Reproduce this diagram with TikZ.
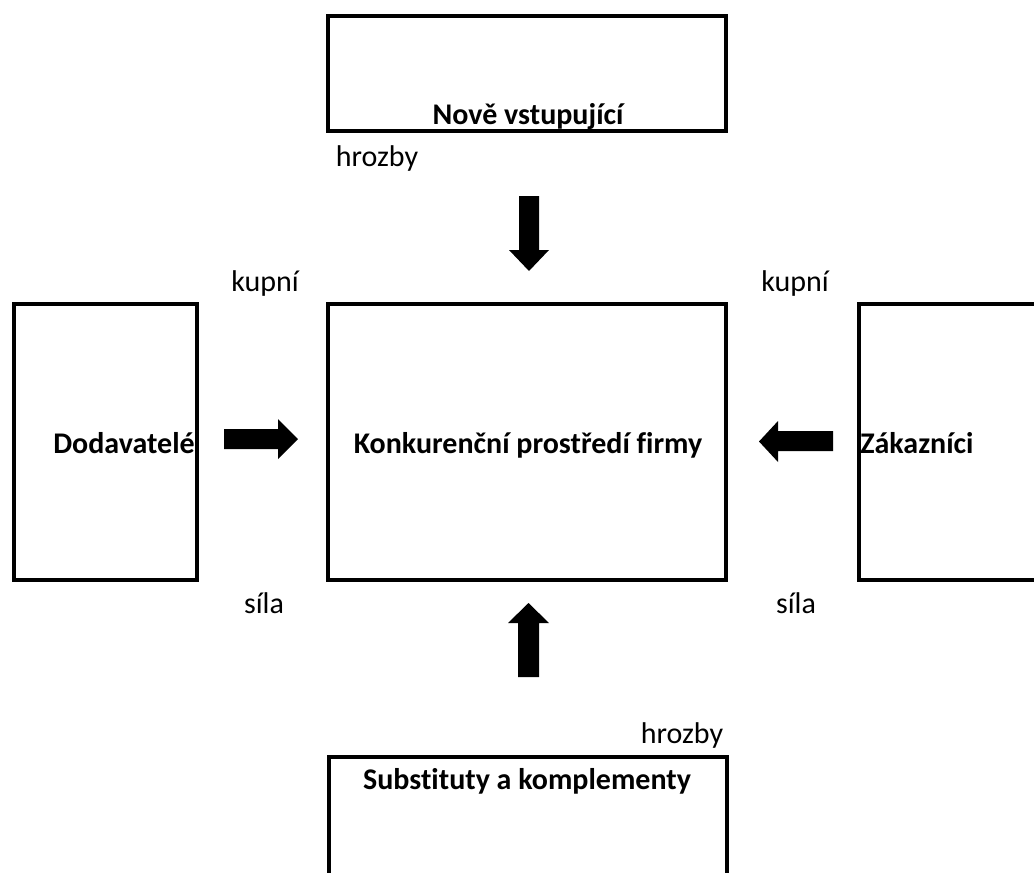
\documentclass[tikz,border=0pt]{standalone}
\usepackage{fontspec}
\setmainfont{Carlito}[Ligatures=NoCommon]
\begin{document}
\begin{tikzpicture}[x=1pt,y=-1pt,
  box/.style={draw=black,line width=4pt,rectangle,inner sep=0pt,outer sep=0pt},
  lbl/.style={anchor=base,inner sep=0pt,font=\fontsize{30}{36}\selectfont},
  blbl/.style={lbl,font=\fontsize{30}{36}\selectfont\bfseries},
  blockarrow/.style={fill=black,draw=none}]
\clip (0,0) rectangle (1034,873);
\fill[white] (0,0) rectangle (1034,873);
% boxes
\node[box,minimum width=398pt,minimum height=115pt] (nove) at (527,73.5) {};
\node[box,minimum width=183pt,minimum height=276pt] (dod) at (105.5,442) {};
\node[box,minimum width=398pt,minimum height=276pt] (konk) at (527,442) {};
\node[box,minimum width=201pt,minimum height=276pt] (zak) at (959.5,442) {};
\node[box,minimum width=398pt,minimum height=143pt] (subs) at (528,828.5) {};
% texts
\node[blbl] (tnove) at (528,124) {Nově vstupující};
\node[blbl] (tdod) at (124,453) {Dodavatelé};
\node[blbl] (tkonk) at (528,453) {Konkurenční prostředí firmy};
\node[blbl] (tzak) at (917,453) {Zákazníci};
\node[blbl] (tsubs) at (527,789) {Substituty a komplementy};
\node[lbl] (hr1) at (377,166) {hrozby};
\node[lbl] (hr2) at (682,743) {hrozby};
\node[lbl] (kup1) at (265,291) {kupní};
\node[lbl] (kup2) at (795,291) {kupní};
\node[lbl] (sil1) at (264,613) {síla};
\node[lbl] (sil2) at (796,613) {síla};
% block arrows
\fill[blockarrow] (519,196) -- (539,196) -- (539,250) -- (549,250) -- (529,271) -- (509,250) -- (519,250) -- cycle;
\fill[blockarrow] (518,677) -- (539,677) -- (539,623) -- (549,623) -- (528.5,603) -- (508,623) -- (518,623) -- cycle;
\fill[blockarrow] (224,429) -- (278,429) -- (278,419) -- (298,439) -- (278,459) -- (278,449) -- (224,449) -- cycle;
\fill[blockarrow] (833,431) -- (778,431) -- (778,421) -- (759,441.5) -- (778,462) -- (778,451) -- (833,451) -- cycle;
\end{tikzpicture}
\end{document}
